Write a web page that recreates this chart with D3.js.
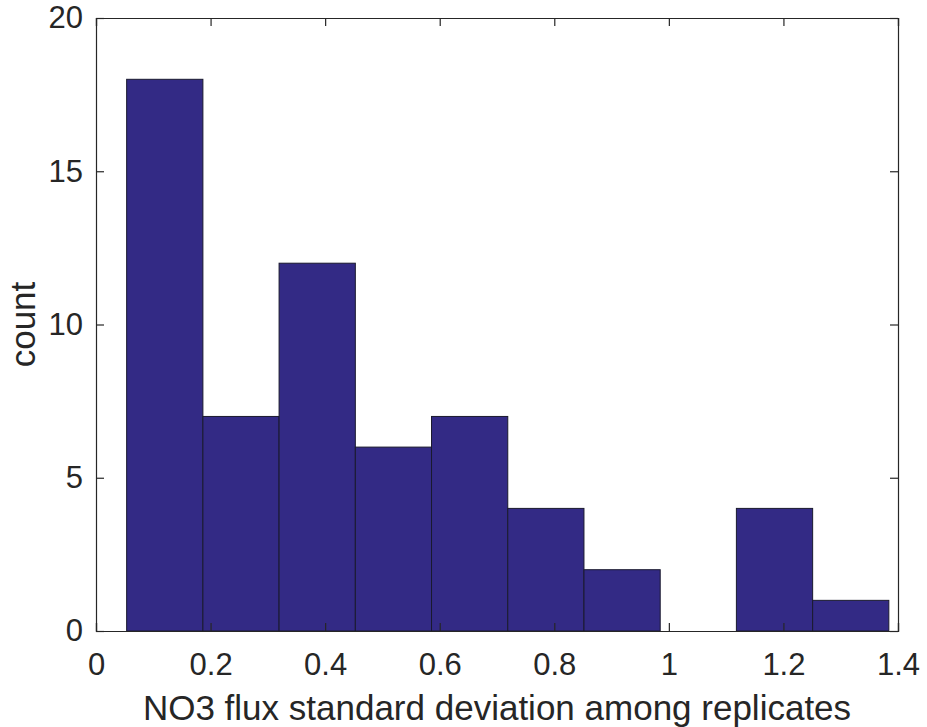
<!DOCTYPE html>
<html>
<head>
<meta charset="utf-8">
<script src="https://cdn.jsdelivr.net/npm/d3@7"></script>
<style>
  body { margin: 0; background: #fff; }
  svg text { font-family: "Liberation Sans", Arial, sans-serif; fill: #262626; }
</style>
</head>
<body>
<svg width="927" height="727"></svg>
<script>
// histogram bin edges and counts
var binEdges = [0.0535, 0.1866, 0.3196, 0.4527, 0.5857, 0.7188, 0.8518, 0.9849, 1.1179, 1.2510, 1.3840];
var counts = [18, 7, 12, 6, 7, 4, 2, 0, 4, 1];
var xTicks = [0, 0.2, 0.4, 0.6, 0.8, 1, 1.2, 1.4];
var yTicks = [0, 5, 10, 15, 20];

var svg = d3.select('svg');
var padding = { t: 18, r: 29, b: 96, l: 96 };
var chartWidth = 927 - padding.l - padding.r;
var chartHeight = 727 - padding.t - padding.b;

var chartG = svg.append('g')
    .attr('transform', `translate(${padding.l}, ${padding.t})`);

var xScale = d3.scaleLinear().domain([0, 1.4]).range([0, chartWidth]);
var yScale = d3.scaleLinear().domain([0, 20]).range([chartHeight, 0]);

var bins = counts.map(function(c, i) {
    return { x0: binEdges[i], x1: binEdges[i + 1], count: c };
});

// bars
chartG.selectAll('.bar')
    .data(bins.filter(d => d.count > 0))
    .enter()
    .append('rect')
    .attr('class', 'bar')
    .attr('x', d => xScale(d.x0))
    .attr('width', d => xScale(d.x1) - xScale(d.x0))
    .attr('y', d => yScale(d.count))
    .attr('height', d => yScale(0) - yScale(d.count))
    .attr('fill', '#332a85')
    .attr('stroke', '#1a1a2e')
    .attr('stroke-width', 1);

// axes, ticks pointing inward on all four sides
var tickLen = 8;
var xaxis = d3.axisBottom(xScale).tickValues(xTicks).tickSize(-tickLen).tickPadding(22)
    .tickFormat(d3.format('~g'));
var xaxisTop = d3.axisTop(xScale).tickValues(xTicks).tickSize(-tickLen).tickFormat('');
var yaxis = d3.axisLeft(yScale).tickValues(yTicks).tickSize(-tickLen).tickPadding(13);
var yaxisRight = d3.axisRight(yScale).tickValues(yTicks).tickSize(-tickLen).tickFormat('');

function styleAxis(g) {
    g.selectAll('path, line').attr('stroke', '#262626').attr('stroke-width', 1.2);
    g.selectAll('text').attr('font-size', 31).attr('font-family', '"Liberation Sans", Arial, sans-serif').attr('fill', '#262626');
}

chartG.append('g').attr('transform', `translate(0,${chartHeight})`).call(xaxis).call(styleAxis);
chartG.append('g').call(xaxisTop).call(styleAxis);
chartG.append('g').call(yaxis).call(styleAxis);
chartG.append('g').attr('transform', `translate(${chartWidth},0)`).call(yaxisRight).call(styleAxis);

// axis labels
svg.append('text')
    .attr('x', padding.l + chartWidth / 2)
    .attr('y', 720)
    .attr('text-anchor', 'middle')
    .attr('font-size', 35)
    .text('NO3 flux standard deviation among replicates');
svg.append('text')
    .attr('transform', `translate(35, ${padding.t + chartHeight / 2}) rotate(-90)`)
    .attr('text-anchor', 'middle')
    .attr('font-size', 35)
    .text('count');
</script>
</body>
</html>
